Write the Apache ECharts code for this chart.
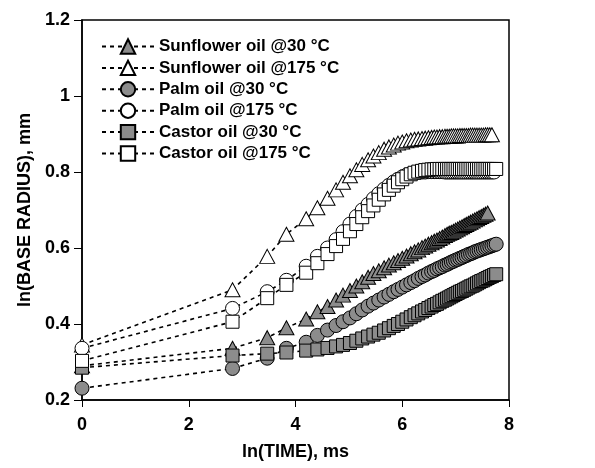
<!DOCTYPE html>
<html><head><meta charset="utf-8">
<script src="https://cdn.jsdelivr.net/npm/echarts@6/dist/echarts.min.js"></script>
<style>html,body{margin:0;padding:0;background:#fff}#c{width:595px;height:468px}</style>
</head><body><div id="c"></div>
<script>
// ln(TIME) values of the recorded frames (ms)
const lnTime = [0, 2.82, 3.47, 3.83, 4.20, 4.41, 4.60, 4.76, 4.89, 5.02,
  5.14, 5.25, 5.36, 5.46, 5.56, 5.66, 5.75, 5.84, 5.92, 6.00,
  6.08, 6.16, 6.23, 6.30, 6.37, 6.43, 6.49, 6.55, 6.60, 6.65,
  6.70, 6.75, 6.80, 6.84, 6.88, 6.92, 6.96, 7.00, 7.04, 7.08,
  7.12, 7.16, 7.20, 7.24, 7.28, 7.32, 7.36, 7.40, 7.44, 7.48,
  7.52, 7.56, 7.60, 7.64, 7.68, 7.72, 7.76];

const seriesNames = ['Sunflower oil @30 °C', 'Sunflower oil @175 °C', 'Palm oil @30 °C', 'Palm oil @175 °C', 'Castor oil @30 °C', 'Castor oil @175 °C'];

const sunflower30 = [0.29, 0.336, 0.364, 0.39, 0.413, 0.432, 0.446, 0.463, 0.476, 0.488,
  0.50, 0.511, 0.523, 0.533, 0.540, 0.548, 0.555, 0.561, 0.567, 0.573,
  0.579, 0.585, 0.590, 0.595, 0.601, 0.605, 0.610, 0.614, 0.618, 0.621,
  0.625, 0.629, 0.633, 0.636, 0.639, 0.641, 0.644, 0.647, 0.650, 0.653,
  0.656, 0.659, 0.662, 0.665, 0.668, 0.671, 0.674, 0.677, 0.680, 0.683,
  0.686, 0.689, 0.692];
const sunflower175 = [0.345, 0.49, 0.578, 0.636, 0.677, 0.706, 0.731, 0.753, 0.773, 0.79,
  0.806, 0.82, 0.832, 0.842, 0.851, 0.86, 0.866, 0.871, 0.876, 0.879,
  0.882, 0.884, 0.886, 0.887, 0.888, 0.889, 0.89, 0.891, 0.892, 0.892,
  0.893, 0.893, 0.894, 0.894, 0.894, 0.895, 0.895, 0.895, 0.895, 0.896,
  0.896, 0.896, 0.896, 0.896, 0.897, 0.897, 0.897, 0.897, 0.897, 0.897,
  0.897, 0.898, 0.898, 0.898, 0.898];
const palm30 = [0.231, 0.283, 0.31, 0.336, 0.352, 0.37, 0.384, 0.396, 0.406, 0.416,
  0.427, 0.437, 0.447, 0.455, 0.463, 0.471, 0.478, 0.485, 0.491, 0.497,
  0.503, 0.509, 0.514, 0.520, 0.525, 0.529, 0.534, 0.538, 0.541, 0.545,
  0.548, 0.551, 0.555, 0.557, 0.560, 0.563, 0.565, 0.568, 0.570, 0.573,
  0.575, 0.578, 0.580, 0.583, 0.585, 0.587, 0.590, 0.592, 0.594, 0.596,
  0.598, 0.600, 0.602, 0.604, 0.606, 0.608, 0.610];
const palm175 = [0.336, 0.441, 0.485, 0.515, 0.552, 0.578, 0.60, 0.622, 0.643, 0.663,
  0.683, 0.70, 0.715, 0.73, 0.743, 0.755, 0.765, 0.774, 0.781, 0.787,
  0.792, 0.795, 0.797, 0.799, 0.80, 0.80, 0.801, 0.801, 0.801, 0.801,
  0.801, 0.801, 0.80, 0.80, 0.80, 0.80, 0.80, 0.80, 0.80, 0.80,
  0.80, 0.80, 0.80, 0.80, 0.80, 0.80, 0.80, 0.80, 0.80, 0.80,
  0.80, 0.80, 0.80, 0.80, 0.80, 0.80];
const castor30 = [0.285, 0.317, 0.322, 0.325, 0.33, 0.333, 0.337, 0.341, 0.345, 0.35,
  0.356, 0.362, 0.367, 0.372, 0.377, 0.383, 0.389, 0.395, 0.40, 0.406,
  0.412, 0.418, 0.423, 0.428, 0.433, 0.437, 0.442, 0.446, 0.45, 0.453,
  0.457, 0.461, 0.464, 0.467, 0.47, 0.473, 0.476, 0.479, 0.482, 0.485,
  0.487, 0.49, 0.493, 0.496, 0.499, 0.501, 0.504, 0.507, 0.51, 0.513,
  0.515, 0.518, 0.521, 0.524, 0.526, 0.529, 0.531];
const castor175 = [0.303, 0.406, 0.468, 0.503, 0.535, 0.56, 0.584, 0.605, 0.624, 0.644,
  0.663, 0.681, 0.697, 0.712, 0.727, 0.741, 0.753, 0.764, 0.773, 0.781,
  0.788, 0.794, 0.798, 0.801, 0.803, 0.805, 0.806, 0.807, 0.807, 0.808,
  0.808, 0.808, 0.808, 0.808, 0.808, 0.808, 0.808, 0.808, 0.808, 0.808,
  0.808, 0.808, 0.808, 0.808, 0.808, 0.808, 0.808, 0.808, 0.808, 0.808,
  0.808, 0.808, 0.808, 0.808, 0.808, 0.808, 0.808];

const xTicks = [0, 2, 4, 6, 8];
const yTicks = [0.2, 0.4, 0.6, 0.8, 1, 1.2];

const FONT = '"Liberation Sans", Arial, sans-serif';
const GRAY = '#8c8c8c';
const values = [sunflower30, sunflower175, palm30, palm175, castor30, castor175];
const symbols = ['triangle', 'triangle', 'circle', 'circle', 'rect', 'rect'];
const fills = [GRAY, '#fff', GRAY, '#fff', GRAY, '#fff'];
const sizes = [[15, 14], [15, 14], 14, 14, 13, 13];

const series = values.map((ys, i) => ({
  name: seriesNames[i],
  type: 'line',
  data: ys.map((y, k) => [lnTime[k], y]),
  symbol: symbols[i],
  symbolSize: sizes[i],
  showAllSymbol: true,
  lineStyle: { color: '#000', width: 1.6, type: [4, 4] },
  itemStyle: { color: fills[i], borderColor: '#000', borderWidth: 1 },
  emphasis: { disabled: true },
  animation: false,
  z: 2 + i
}));

const chart = echarts.init(document.getElementById('c'), null, { renderer: 'canvas' });
chart.setOption({
  animation: false,
  grid: { left: 82, right: 86, top: 20, bottom: 68, show: true, borderColor: '#000', borderWidth: 1.5, backgroundColor: 'transparent' },
  legend: {
    orient: 'vertical', left: 96, top: 33,
    itemWidth: 52, itemHeight: 18, itemGap: 4.4,
    data: seriesNames,
    textStyle: { fontFamily: FONT, fontWeight: 'bold', fontSize: 17, color: '#000' }
  },
  xAxis: {
    type: 'value', min: xTicks[0], max: xTicks[xTicks.length - 1], interval: 2,
    name: 'ln(TIME), ms', nameLocation: 'middle', nameGap: 43,
    nameTextStyle: { fontFamily: FONT, fontWeight: 'bold', fontSize: 18, color: '#000' },
    axisLine: { onZero: false, lineStyle: { color: '#000', width: 1.5 } },
    axisTick: { inside: false, length: 7, lineStyle: { color: '#000', width: 1 } },
    axisLabel: { fontFamily: FONT, fontWeight: 'bold', fontSize: 18, color: '#000', margin: 16 },
    splitLine: { show: false }
  },
  yAxis: {
    type: 'value', min: yTicks[0], max: yTicks[yTicks.length - 1], interval: 0.2,
    name: 'ln(BASE RADIUS), mm', nameLocation: 'middle', nameGap: 46,
    nameTextStyle: { fontFamily: FONT, fontWeight: 'bold', fontSize: 18, color: '#000' },
    axisLine: { onZero: false, lineStyle: { color: '#000', width: 1.5 } },
    axisTick: { inside: false, length: 8, lineStyle: { color: '#000', width: 1 } },
    axisLabel: { fontFamily: FONT, fontWeight: 'bold', fontSize: 18, color: '#000', margin: 12 },
    splitLine: { show: false }
  },
  series: series
});
</script></body></html>
